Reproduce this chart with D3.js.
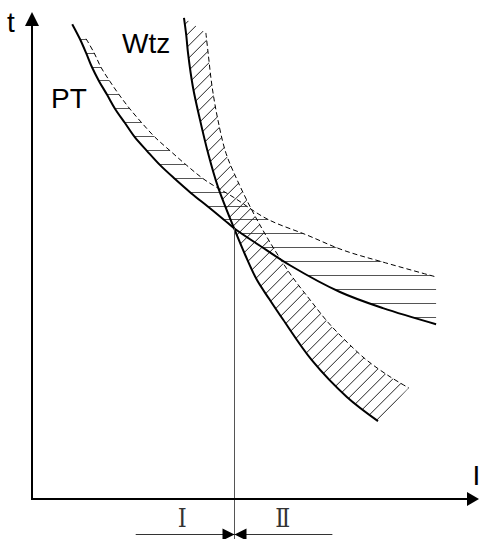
<!DOCTYPE html>
<html>
<head>
<meta charset="utf-8">
<script src="https://cdn.jsdelivr.net/npm/d3@7"></script>
<style>
	body { margin: 0; background: #fff; }
	svg { display: block; }
</style>
</head>
<body>
<div id="chart"></div>
<script>
// points: [I, t] in % of the axis length
var ptSolid = [
	[9.0, 97.5], [10.7, 94.5], [12.1, 91.6], [13.4, 88.7], [15.0, 85.8], [16.8, 83.0],
	[18.6, 80.1], [20.8, 77.2], [23.0, 74.3], [25.7, 71.5], [28.6, 68.6], [32.0, 65.7],
	[35.6, 62.8], [39.4, 60.0], [43.0, 57.3], [45.2, 55.6], [51.0, 52.0], [57.7, 48.0],
	[68.9, 42.5], [78.5, 39.2], [90.4, 35.9]
];
var ptLimit = [
	[12.1, 94.5], [13.9, 91.6], [15.4, 88.7], [17.4, 85.8], [19.5, 83.0], [21.9, 80.1],
	[24.6, 77.2], [27.5, 74.3], [30.9, 71.5], [34.5, 68.6], [38.7, 65.5], [45.0, 62.0],
	[52.6, 57.5], [61.5, 54.2], [69.6, 51.1], [78.3, 48.7], [90.4, 45.6]
];
var wtzSolid = [
	[34.0, 98.8], [34.5, 95.3], [34.9, 91.6], [36.0, 84.6], [37.6, 77.8], [39.4, 71.0],
	[41.6, 64.1], [45.2, 55.6], [47.7, 50.1], [50.3, 45.0], [53.2, 40.9], [56.2, 36.8],
	[62.6, 28.5], [70.5, 20.9], [77.4, 16.0]
];
var wtzLimit = [
	[38.9, 95.7], [39.4, 91.6], [40.3, 84.6], [41.6, 77.8], [43.4, 71.0], [45.9, 65.5],
	[48.8, 60.0], [51.9, 54.8], [55.0, 50.1], [58.4, 45.4], [62.2, 40.9], [66.2, 36.3],
	[70.5, 32.2], [74.9, 28.5], [80.1, 25.1], [84.3, 22.8]
];
var crossPoint = [45.2, 55.6];
var curveLabels = ["PT", "Wtz"];
var axisLabels = ["I", "t"];
var zoneLabels = ["Ⅰ", "Ⅱ"];

var width = 479, height = 539;
var font = "'Liberation Sans', Arial, sans-serif";

var x = d3.scaleLinear().domain([0, 100]).range([32, 479]);
var y = d3.scaleLinear().domain([0, 100]).range([499, 12]);

var svg = d3.select("#chart").append("svg")
	.attr("width", width)
	.attr("height", height);

var line = d3.line()
	.x(function(d) { return x(d[0]); })
	.y(function(d) { return y(d[1]); })
	.curve(d3.curveCatmullRom.alpha(0.5));

// closed area between a curve and its limit curve
var bandPath = function(a, b) {
	return line(a) + line(b.slice().reverse()).replace("M", "L") + "Z";
};

// filled triangle, tip at (tx,ty) pointing along (dx,dy)
var arrow = function(tx, ty, dx, dy, len, half) {
	var bx = tx - dx * len, by = ty - dy * len;
	return "M" + tx + "," + ty +
		"L" + (bx - dy * half) + "," + (by + dx * half) +
		"L" + (bx + dy * half) + "," + (by - dx * half) + "Z";
};

var defs = svg.append("defs");
defs.append("clipPath").attr("id", "ptBand")
	.append("path").attr("d", bandPath(ptSolid, ptLimit));
defs.append("clipPath").attr("id", "wtzBand")
	.append("path").attr("d", bandPath(wtzSolid, wtzLimit));

// horizontal hatching for PT
svg.append("g")
	.attr("clip-path", "url(#ptBand)")
	.selectAll("line")
	.data(d3.range(y(ptLimit[0][1]), y(30), 13.9))
	.join("line")
	.attr("x1", 0)
	.attr("x2", width)
	.attr("y1", function(d) { return Math.round(d) + 0.5; })
	.attr("y2", function(d) { return Math.round(d) + 0.5; })
	.attr("stroke", "#555")
	.attr("stroke-width", 1.2);

// diagonal hatching for Wtz, lines x + y = c
var last = wtzLimit[wtzLimit.length - 1];
var cEnd = x(last[0]) + y(last[1]);
svg.append("g")
	.attr("clip-path", "url(#wtzBand)")
	.selectAll("line")
	.data(d3.range(cEnd, 150, -12.5))
	.join("line")
	.attr("x1", function(c) { return c; })
	.attr("y1", 0)
	.attr("x2", function(c) { return c - 700; })
	.attr("y2", 700)
	.attr("stroke", "#222")
	.attr("stroke-width", 1);

// limit curves (dashed) and the curves
[ptLimit, wtzLimit].forEach(function(d) {
	svg.append("path")
		.attr("d", line(d))
		.attr("fill", "none")
		.attr("stroke", "#000")
		.attr("stroke-width", 1)
		.attr("stroke-dasharray", "5,3");
});
[ptSolid, wtzSolid].forEach(function(d) {
	svg.append("path")
		.attr("d", line(d))
		.attr("fill", "none")
		.attr("stroke", "#000")
		.attr("stroke-width", 2);
});

// line down from the crossing
var xc = Math.round(x(crossPoint[0])) + 0.5;
svg.append("line")
	.attr("x1", xc).attr("x2", xc)
	.attr("y1", y(crossPoint[1]))
	.attr("y2", height)
	.attr("stroke", "#555")
	.attr("stroke-width", 1);

// axes
svg.append("line")
	.attr("x1", x(0)).attr("y1", y(0) + 1)
	.attr("x2", x(0)).attr("y2", y(100) + 8)
	.attr("stroke", "#000")
	.attr("stroke-width", 2);
svg.append("line")
	.attr("x1", x(0) - 1).attr("y1", y(0))
	.attr("x2", x(100) - 8).attr("y2", y(0))
	.attr("stroke", "#000")
	.attr("stroke-width", 2);
svg.append("path").attr("d", arrow(x(0), y(100), 0, -1, 14, 7)).attr("fill", "#000");
svg.append("path").attr("d", arrow(x(100), y(0), 1, 0, 12, 7)).attr("fill", "#000");

// zone dimension line under the axis
var dimY = y(0) + 35.5;
var xl = x(crossPoint[0] - 22), xr = x(crossPoint[0] + 22);
svg.append("line")
	.attr("x1", xl).attr("x2", xr)
	.attr("y1", dimY).attr("y2", dimY)
	.attr("stroke", "#333")
	.attr("stroke-width", 1);
svg.append("path").attr("d", arrow(xc, dimY, 1, 0, 12, 6)).attr("fill", "#000");
svg.append("path").attr("d", arrow(xc, dimY, -1, 0, 12, 6)).attr("fill", "#000");

// the numerals are narrow in the picture, squeeze them
svg.selectAll("text.zone")
	.data(zoneLabels)
	.join("text")
	.attr("class", "zone")
	.attr("x", function(d, i) { return i == 0 ? x(crossPoint[0] - 11.7) - 4 : x(crossPoint[0] + 10.8) - 7; })
	.attr("y", 527)
	.attr("textLength", function(d, i) { return i == 0 ? 9 : 15; })
	.attr("lengthAdjust", "spacingAndGlyphs")
	.attr("font-family", "'DejaVu Serif', serif")
	.attr("font-size", 26)
	.attr("fill", "#333")
	.text(function(d) { return d; });

// labels
var label = function(txt, lx, ly) {
	svg.append("text")
		.attr("x", lx)
		.attr("y", ly)
		.attr("font-family", font)
		.attr("font-size", 28)
		.attr("fill", "#000")
		.text(txt);
};
label(axisLabels[1], 7, 32);
label(axisLabels[0], 472.5, 485);
label(curveLabels[0], 51, 108);
label(curveLabels[1], 122, 53);
</script>
</body>
</html>
